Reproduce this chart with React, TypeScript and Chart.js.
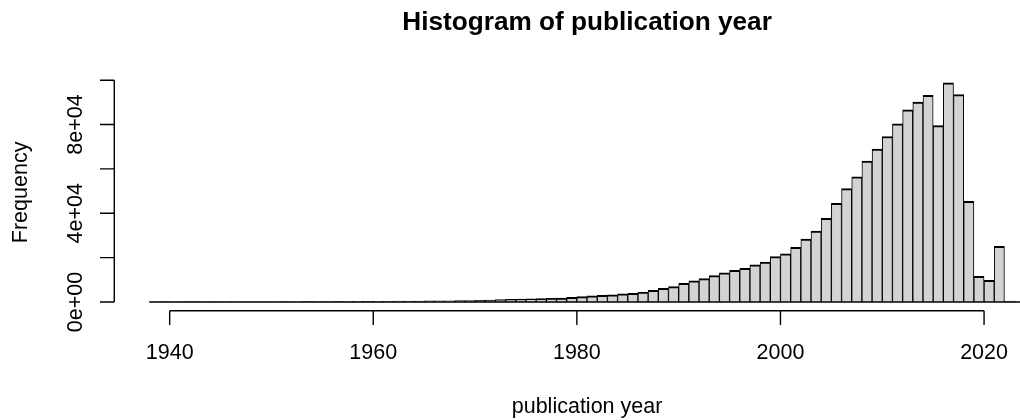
import React, { useEffect, useRef } from "react";
import { Chart, registerables } from "chart.js";

Chart.register(...registerables);

// Histogram bins: one-year bins starting at firstYear
const firstYear = 1938;
const counts: number[] = [
  30, 10, 15, 10, 10, 15, 10, 20, 25, 30, // 1938-1947
  40, 50, 60, 70, 90, 130, 150, 170, 190, 210, // 1948-1957
  230, 260, 290, 320, 350, 380, 420, 460, 500, 550, // 1958-1967
  600, 650, 720, 880, 1050, 1150, 1300, 1400, 1500, 1600, // 1968-1977
  1700, 2100, 2400, 2700, 3000, 3150, 3600, 3900, 4500, 5250, // 1978-1987
  6150, 6900, 8400, 9500, 10500, 11900, 13100, 14300, 15200, 16700, // 1988-1997
  18000, 20400, 21650, 24650, 28400, 31900, 37700, 44500, 51100, 56400, // 1998-2007
  63500, 68900, 74600, 80300, 86600, 90100, 93200, 79500, 98800, 93500, // 2008-2017
  45400, 11600, 9800, 25100, 400, 0, // 2018-2023
];
const binStarts: number[] = counts.map((_, i) => firstYear + i);

const xTicks: number[] = [1940, 1960, 1980, 2000, 2020];
const xTickLabels: string[] = ["1940", "1960", "1980", "2000", "2020"];
const yTicks: number[] = [0, 20000, 40000, 60000, 80000, 100000];
const yTickLabels: string[] = ["0e+00", "", "4e+04", "", "8e+04", ""];

const titleText = "Histogram of publication year";
const xLabel = "publication year";
const yLabel = "Frequency";

const FONT = "'Liberation Sans', Arial, Helvetica, sans-serif";

export default function App() {
  const ref = useRef<HTMLCanvasElement | null>(null);

  useEffect(() => {
    const canvas = ref.current;
    if (!canvas) return;
    const lo = binStarts[0];
    const hi = binStarts[binStarts.length - 1] + 1;
    const span = hi - lo;
    const maxCount = Math.max(...counts);

    const rAxes = {
      id: "rAxes",
      afterDraw(chart: any) {
        const ctx = chart.ctx as CanvasRenderingContext2D;
        const xs = chart.scales.x;
        const ys = chart.scales.y;
        const area = chart.chartArea;
        const tick = 14.3;
        ctx.save();
        ctx.strokeStyle = "#000";
        ctx.fillStyle = "#000";
        ctx.lineWidth = 1.4;

        // baseline of zero-height bins
        const y0 = ys.getPixelForValue(0);
        ctx.beginPath();
        ctx.moveTo(xs.getPixelForValue(lo), y0);
        ctx.lineTo(xs.getPixelForValue(hi), y0);
        ctx.stroke();

        // x axis
        const ax = area.bottom;
        ctx.beginPath();
        ctx.moveTo(xs.getPixelForValue(xTicks[0]), ax);
        ctx.lineTo(xs.getPixelForValue(xTicks[xTicks.length - 1]), ax);
        xTicks.forEach((t) => {
          const px = xs.getPixelForValue(t);
          ctx.moveTo(px, ax);
          ctx.lineTo(px, ax + tick);
        });
        ctx.stroke();
        ctx.font = `21.5px ${FONT}`;
        ctx.textAlign = "center";
        ctx.textBaseline = "alphabetic";
        xTicks.forEach((t, i) => {
          ctx.fillText(xTickLabels[i], xs.getPixelForValue(t), ax + 48.3);
        });

        // y axis
        const ay = area.left;
        ctx.beginPath();
        ctx.moveTo(ay, ys.getPixelForValue(yTicks[0]));
        ctx.lineTo(ay, ys.getPixelForValue(yTicks[yTicks.length - 1]));
        yTicks.forEach((t) => {
          const py = ys.getPixelForValue(t);
          ctx.moveTo(ay, py);
          ctx.lineTo(ay - tick, py);
        });
        ctx.stroke();
        yTicks.forEach((t, i) => {
          if (!yTickLabels[i]) return;
          ctx.save();
          ctx.translate(ay - 32.6, ys.getPixelForValue(t));
          ctx.rotate(-Math.PI / 2);
          ctx.fillText(yTickLabels[i], 0, 0);
          ctx.restore();
        });

        const cx = (area.left + area.right) / 2;
        const cy = (area.top + area.bottom) / 2;
        // axis titles
        ctx.fillText(xLabel, cx, ax + 102.6);
        ctx.save();
        ctx.translate(ay - 86.9, cy);
        ctx.rotate(-Math.PI / 2);
        ctx.fillText(yLabel, 0, 0);
        ctx.restore();

        // main title
        ctx.font = `bold 26.2px ${FONT}`;
        ctx.fillText(titleText, cx, 29.5);
        ctx.restore();
      },
    };

    const chart = new Chart(canvas, {
      type: "bar",
      data: {
        datasets: [
          {
            data: counts.map((c, i) => ({ x: binStarts[i] + 0.5, y: c })),
            backgroundColor: "#d3d3d3",
            borderColor: "#000000",
            borderWidth: { top: 2, left: 1, right: 1, bottom: 0 } as any,
            borderSkipped: "start",
            barPercentage: 1,
            categoryPercentage: 1,
          },
        ],
      },
      options: {
        animation: false,
        responsive: false,
        devicePixelRatio: 1,
        layout: {
          padding: { left: 114.3, right: 114.2, top: 74.1, bottom: 109.3 },
        },
        plugins: {
          legend: { display: false },
          title: { display: false },
          tooltip: { enabled: false },
        },
        scales: {
          x: {
            type: "linear",
            display: false,
            offset: false,
            bounds: "ticks",
            min: lo - 0.04 * span,
            max: hi + 0.04 * span,
          },
          y: {
            type: "linear",
            display: false,
            min: -0.04 * maxCount,
            max: 1.04 * maxCount,
          },
        },
      },
      plugins: [rAxes],
    });
    return () => chart.destroy();
  }, []);

  return (
    <div
      style={{
        position: "absolute",
        left: 0,
        top: 0,
        width: 1020,
        height: 420,
        overflow: "hidden",
        background: "#fff",
      }}
    >
      <canvas ref={ref} width={1174} height={420} style={{ display: "block" }} />
    </div>
  );
}
